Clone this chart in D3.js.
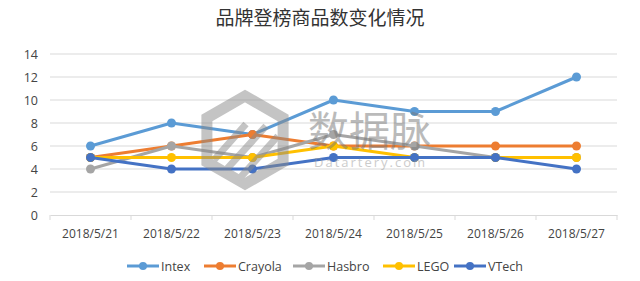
<!DOCTYPE html>
<meta charset="utf-8">
<head>
<style>
  body { margin: 0; background: #fff; }
  text { font-family: "Open Sans", "Noto Sans CJK SC", sans-serif; }
</style>
</head>
<svg width="640" height="281"></svg>
<script src="https://cdn.jsdelivr.net/npm/d3@7/dist/d3.min.js"></script>
<script>
var dates = ["2018/5/21", "2018/5/22", "2018/5/23", "2018/5/24", "2018/5/25", "2018/5/26", "2018/5/27"];
var names = ["Intex", "Crayola", "Hasbro", "LEGO", "VTech"];
var intex = [6, 8, 7, 10, 9, 9, 12];
var crayola = [5, 6, 7, 6, 6, 6, 6];
var hasbro = [4, 6, 5, 7, 6, 5, 5];
var lego = [5, 5, 5, 6, 5, 5, 5];
var vtech = [5, 4, 4, 5, 5, 5, 4];
var yTicks = [0, 2, 4, 6, 8, 10, 12, 14];
var colors = ["#5B9BD5", "#ED7D31", "#A5A5A5", "#FFC000", "#4472C4"];

var series = [intex, crayola, hasbro, lego, vtech];

var svg = d3.select("svg");
var plotLeft = 50, plotRight = 617, plotTop = 54, plotBottom = 215;

var x = d3.scaleBand().domain(dates).range([plotLeft, plotRight]);
var y = d3.scaleLinear().domain([0, 14]).range([plotBottom, plotTop]);

svg.append("text")
   .attr("x", 320).attr("y", 25)
   .attr("text-anchor", "middle")
   .attr("font-size", "19px")
   .attr("fill", "#333")
   .text("品牌登榜商品数变化情况");

// grid
svg.append("g").selectAll("line")
   .data(yTicks.slice(1))
   .enter().append("line")
   .attr("x1", plotLeft).attr("x2", plotRight)
   .attr("y1", function(d) { return y(d); })
   .attr("y2", function(d) { return y(d); })
   .attr("stroke", "#d9d9d9").attr("stroke-width", 1);

var yAxis = svg.append("g")
   .attr("transform", "translate(" + plotLeft + ",0)")
   .call(d3.axisLeft(y).tickValues(yTicks).tickSize(0).tickPadding(12));
yAxis.select(".domain").remove();
yAxis.selectAll("text").attr("font-size", "12.5px").attr("fill", "#444")
   .attr("font-family", "'Open Sans', sans-serif");

var xAxis = svg.append("g")
   .attr("transform", "translate(0," + plotBottom + ")")
   .call(d3.axisBottom(x).tickSize(0).tickPadding(14));
xAxis.select(".domain").attr("stroke", "#d9d9d9");
xAxis.selectAll("text").attr("font-size", "12px").attr("fill", "#444")
   .attr("font-family", "'Open Sans', sans-serif");
// band separators
svg.append("g").selectAll("line")
   .data(dates.concat(["end"]))
   .enter().append("line")
   .attr("x1", function(d, i) { return plotLeft + i * x.bandwidth(); })
   .attr("x2", function(d, i) { return plotLeft + i * x.bandwidth(); })
   .attr("y1", plotBottom).attr("y2", plotBottom + 5)
   .attr("stroke", "#d9d9d9");

var line = d3.line()
   .x(function(d, i) { return x(dates[i]) + x.bandwidth() / 2; })
   .y(function(d) { return y(d); });

series.forEach(function(s, k) {
  var g = svg.append("g");
  g.append("path").datum(s)
   .attr("d", line)
   .attr("fill", "none")
   .attr("stroke", colors[k])
   .attr("stroke-width", 3)
   .attr("stroke-linejoin", "round");
  g.selectAll("circle").data(s).enter().append("circle")
   .attr("cx", function(d, i) { return x(dates[i]) + x.bandwidth() / 2; })
   .attr("cy", function(d) { return y(d); })
   .attr("r", 4.5)
   .attr("fill", colors[k]);
});

// watermark, drawn over the lines
var wm = svg.append("g").attr("opacity", 0.5);
var hex = d3.range(6).map(function(i) {
  var a = Math.PI / 3 * i - Math.PI / 2;
  return [245 + 44 * Math.cos(a), 140 + 44 * Math.sin(a)];
});
wm.append("polygon").attr("points", hex.join(" "))
  .attr("fill", "none").attr("stroke", "#8a8a8a").attr("stroke-width", 11);
wm.append("path").attr("d", "M224,172 L266,126 M238,180 L278,136 M214,160 L246,124")
  .attr("stroke", "#8a8a8a").attr("stroke-width", 7);
wm.append("text").attr("x", 308).attr("y", 146)
  .attr("font-size", "41px").attr("fill", "#777")
  .attr("font-family", "'Noto Sans CJK SC', sans-serif")
  .text("数据脉");
wm.append("text").attr("x", 314).attr("y", 167)
  .attr("font-size", "13px").attr("fill", "#999").attr("letter-spacing", "2px")
  .text("Datartery.com");

// legend
var legendX = [127, 204, 293, 383, 454];
var lg = svg.append("g").attr("transform", "translate(0,266)");
names.forEach(function(n, k) {
  var item = lg.append("g").attr("transform", "translate(" + legendX[k] + ",0)");
  item.append("line").attr("x1", 0).attr("x2", 32).attr("y1", 0).attr("y2", 0)
    .attr("stroke", colors[k]).attr("stroke-width", 3);
  item.append("circle").attr("cx", 16).attr("cy", 0).attr("r", 4).attr("fill", colors[k]);
  item.append("text").attr("x", 34).attr("y", 4.5)
    .attr("font-size", "12.5px").attr("fill", "#444").text(n);
});
</script>
